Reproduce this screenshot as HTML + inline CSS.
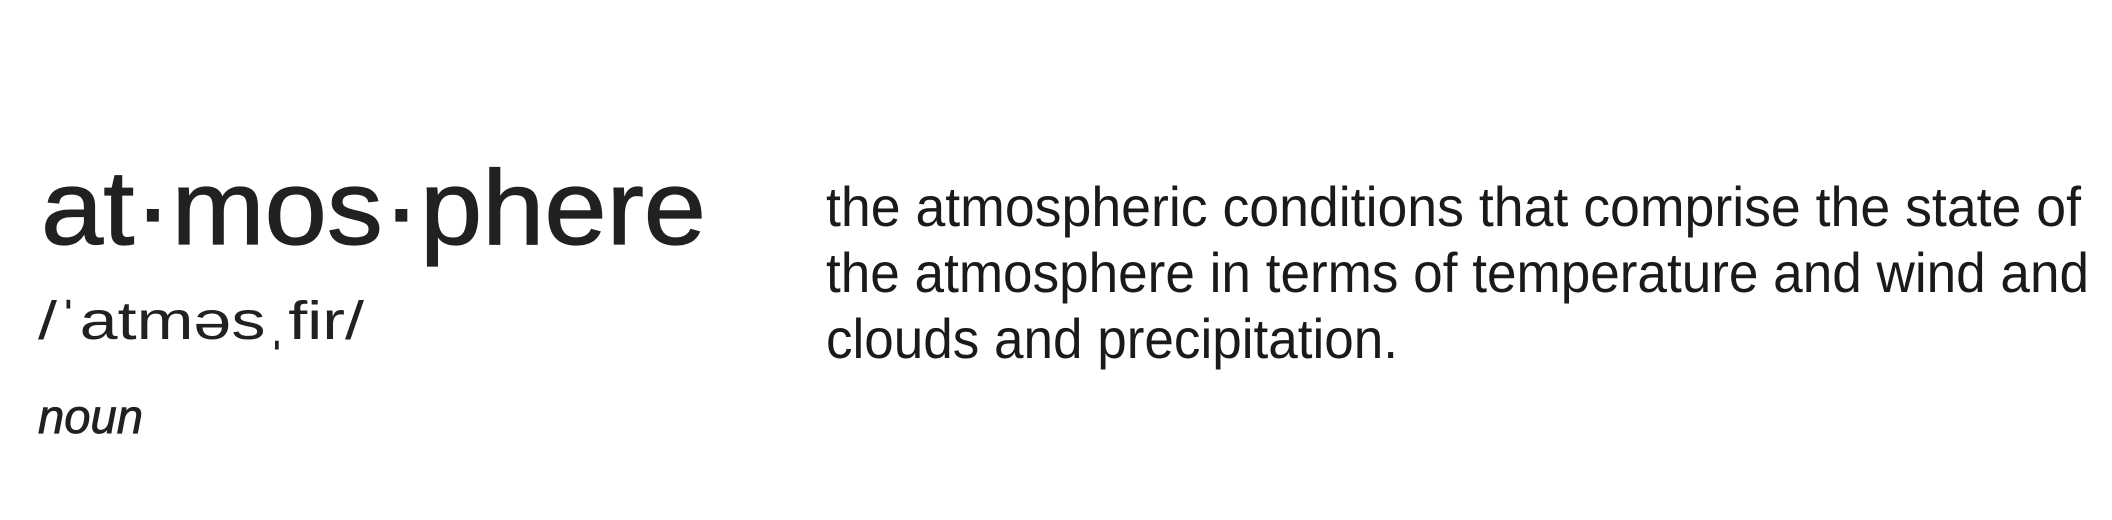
<!DOCTYPE html>
<html><head><meta charset="utf-8"><style>
html,body{margin:0;padding:0;background:#fff;width:2112px;height:520px;overflow:hidden}
svg{display:block}
</style></head><body>
<svg width="2112" height="520" viewBox="0 0 2112 520">
<g font-family="Liberation Sans, sans-serif" fill="#212121">
<text x="41" y="244" font-size="106" stroke="#212121" stroke-width="1.2" textLength="665" lengthAdjust="spacingAndGlyphs">at·mos·phere</text>
<text x="38" y="339" font-size="54" textLength="326" lengthAdjust="spacingAndGlyphs">/ˈatməsˌfir/</text>
<text x="38" y="433" font-size="48" font-style="italic" stroke="#212121" stroke-width="0.8" textLength="105" lengthAdjust="spacingAndGlyphs">noun</text>
</g>
<g font-family="Liberation Sans, sans-serif" fill="#1a1a1a" font-size="56">
<text x="826" y="226" textLength="1255" lengthAdjust="spacingAndGlyphs">the atmospheric conditions that comprise the state of</text>
<text x="826" y="292" textLength="1263" lengthAdjust="spacingAndGlyphs">the atmosphere in terms of temperature and wind and</text>
<text x="826" y="358" textLength="572" lengthAdjust="spacingAndGlyphs">clouds and precipitation.</text>
</g>
</svg>
</body></html>
